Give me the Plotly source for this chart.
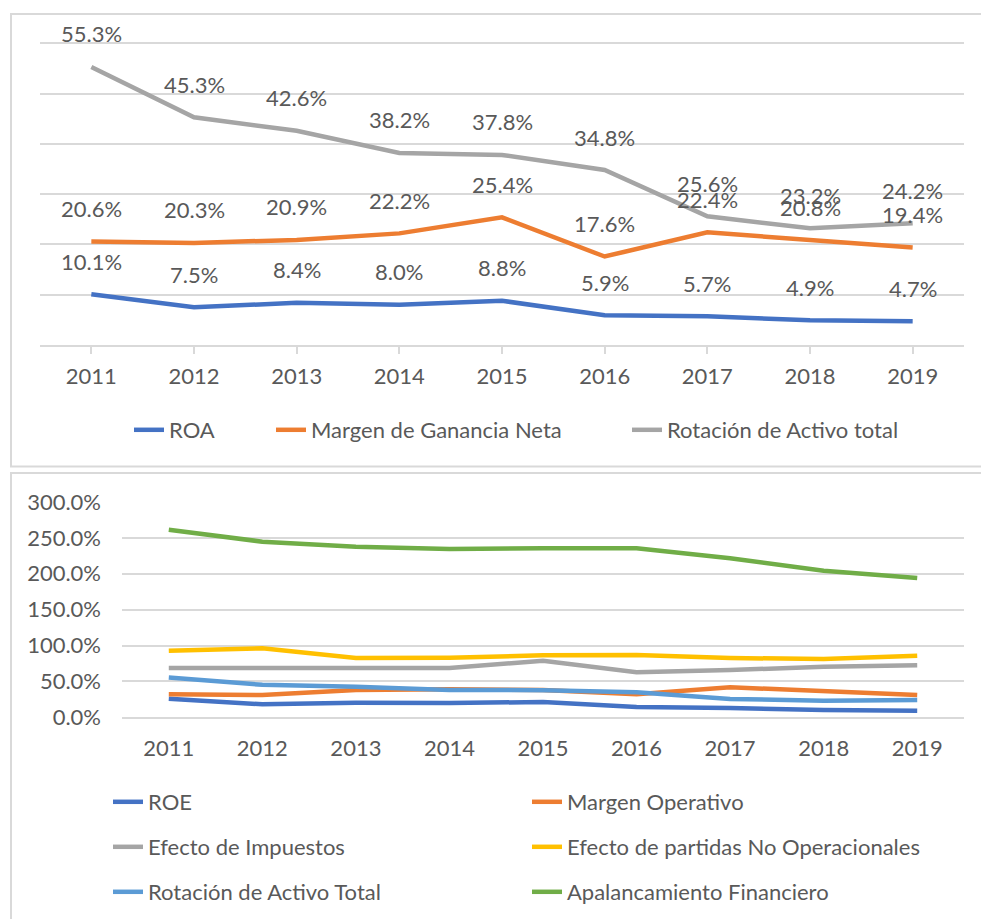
import plotly.graph_objects as go

# ---- data ----
years = ["2011", "2012", "2013", "2014", "2015", "2016", "2017", "2018", "2019"]

# DuPont (3 factors), values in %
roa = [10.1, 7.5, 8.4, 8.0, 8.8, 5.9, 5.7, 4.9, 4.7]
margen_neta = [20.6, 20.3, 20.9, 22.2, 25.4, 17.6, 22.4, 20.8, 19.4]
rotacion_activo = [55.3, 45.3, 42.6, 38.2, 37.8, 34.8, 25.6, 23.2, 24.2]

# DuPont extended, values in %
roe = [26.0, 18.1, 20.4, 19.9, 21.3, 14.4, 13.0, 10.2, 9.2]
margen_operativo = [32.0, 31.1, 38.0, 39.0, 38.0, 32.0, 41.8, 36.6, 31.1]
efecto_impuestos = [68.7, 68.7, 68.7, 68.7, 78.9, 62.7, 65.9, 70.5, 72.4]
efecto_no_operacionales = [92.8, 96.1, 82.6, 83.1, 86.4, 86.8, 82.6, 81.2, 85.9]
apalancamiento = [261.4, 244.7, 237.7, 234.5, 235.5, 235.5, 221.5, 204.3, 194.1]

W, H = 981, 919
FONT = "Lato"
FSIZE = 22
TXT = "#595959"
GRID = "#D9D9D9"

BLUE = "#4472C4"
ORANGE = "#ED7D31"
GRAY = "#A5A5A5"
YELLOW = "#FFC000"
LBLUE = "#5B9BD5"
GREEN = "#70AD47"


def px_x(p):
    return p / W


def px_y(p):
    return 1 - p / H


fig = go.Figure()

idx = list(range(len(years)))

# ---- top chart ----
top_series = [
    ("ROA", roa, BLUE, "legend"),
    ("Margen de Ganancia Neta", margen_neta, ORANGE, "legend2"),
    ("Rotación de Activo total", rotacion_activo, GRAY, "legend3"),
]
for name, vals, color, lg in top_series:
    fig.add_trace(go.Scatter(
        x=idx, y=vals, name=name, mode="lines",
        line=dict(color=color, width=4.5),
        xaxis="x", yaxis="y", legend=lg,
    ))

annotations = []
for name, vals, color, lg in top_series:
    for i, v in zip(idx, vals):
        annotations.append(dict(
            x=i, y=v, xref="x", yref="y", text=f"{v:.1f}%",
            showarrow=False, yshift=33,
            font=dict(family=FONT, size=FSIZE, color=TXT),
        ))

# ---- bottom chart ----
bottom_series = [
    ("ROE", roe, BLUE, "legend4"),
    ("Margen Operativo", margen_operativo, ORANGE, "legend5"),
    ("Efecto de Impuestos", efecto_impuestos, GRAY, "legend6"),
    ("Efecto de partidas No Operacionales", efecto_no_operacionales, YELLOW, "legend7"),
    ("Rotación de Activo Total", rotacion_activo, LBLUE, "legend8"),
    ("Apalancamiento Financiero", apalancamiento, GREEN, "legend9"),
]
for name, vals, color, lg in bottom_series:
    fig.add_trace(go.Scatter(
        x=idx, y=vals, name=name, mode="lines",
        line=dict(color=color, width=4.5),
        xaxis="x2", yaxis="y2", legend=lg,
    ))

# ---- legends: one entry each, placed in rows/columns ----
legend_pos = {
    "legend": (170, 430),
    "legend2": (312, 430),
    "legend3": (668, 430),
    "legend4": (149, 802),
    "legend5": (568, 802),
    "legend6": (149, 847),
    "legend7": (568, 847),
    "legend8": (149, 892),
    "legend9": (568, 892),
}
legend_layout = {}
for key, (tx, ty) in legend_pos.items():
    legend_layout[key] = dict(
        x=px_x(tx - 41), y=px_y(ty), xanchor="left", yanchor="middle",
        bgcolor="rgba(0,0,0,0)", borderwidth=0,
        font=dict(family=FONT, size=FSIZE, color=TXT),
    )

axis_font = dict(family=FONT, size=FSIZE, color=TXT)

# plot-area geometry (pixels): value 0 baseline and top gridline
TOP_Y0, TOP_Y60 = 345.0, 43.3
TOP_MAX = 60.2
top_dom_top = TOP_Y0 - (TOP_Y0 - TOP_Y60) / 60 * TOP_MAX
BOT_Y0, BOT_Y300 = 717.3, 502.0
BOT_MAX = 301.0
bot_dom_top = BOT_Y0 - (BOT_Y0 - BOT_Y300) / 300 * BOT_MAX

fig.update_layout(
    width=W, height=H,
    margin=dict(l=0, r=0, t=0, b=0, autoexpand=False),
    paper_bgcolor="white", plot_bgcolor="white",
    showlegend=True,
    annotations=annotations,
    xaxis=dict(
        domain=[px_x(40), px_x(964)], range=[-0.5, 8.5],
        tickmode="array", tickvals=idx, ticktext=years,
        showgrid=False, zeroline=False,
        showline=True, linecolor=GRID, linewidth=1.5,
        ticks="outside", ticklen=7, tickcolor=GRID, tickwidth=1.5,
        tickson="boundaries",
        tickfont=axis_font, ticklabelstandoff=4,
        anchor="y", automargin=False,
    ),
    yaxis=dict(
        domain=[px_y(TOP_Y0), px_y(top_dom_top)], range=[0, TOP_MAX],
        tickmode="linear", tick0=0, dtick=10,
        showgrid=True, gridcolor=GRID, gridwidth=1.5,
        showticklabels=False, zeroline=False, ticks="",
        anchor="x", automargin=False,
    ),
    xaxis2=dict(
        domain=[px_x(122), px_x(964)], range=[-0.5, 8.5],
        tickmode="array", tickvals=idx, ticktext=years,
        showgrid=False, zeroline=False,
        showline=True, linecolor=GRID, linewidth=1.5,
        ticks="", tickfont=axis_font, ticklabelstandoff=11,
        anchor="y2", automargin=False,
    ),
    yaxis2=dict(
        domain=[px_y(BOT_Y0), px_y(bot_dom_top)], range=[0, BOT_MAX],
        tickmode="linear", tick0=0, dtick=50,
        tickformat=".1f", ticksuffix="%",
        showgrid=True, gridcolor=GRID, gridwidth=1.5,
        zeroline=False, ticks="", tickfont=axis_font,
        ticklabelstandoff=20,
        anchor="x2", automargin=False,
    ),
    shapes=[
        dict(type="rect", xref="paper", yref="paper",
             x0=px_x(11), x1=px_x(1000), y0=px_y(14), y1=px_y(466.5),
             line=dict(color=GRID, width=2), fillcolor="rgba(0,0,0,0)", layer="below"),
        dict(type="rect", xref="paper", yref="paper",
             x0=px_x(11), x1=px_x(1000), y0=px_y(473), y1=px_y(940),
             line=dict(color=GRID, width=2), fillcolor="rgba(0,0,0,0)", layer="below"),
    ],
    **legend_layout,
)

fig.write_html("out.html")
